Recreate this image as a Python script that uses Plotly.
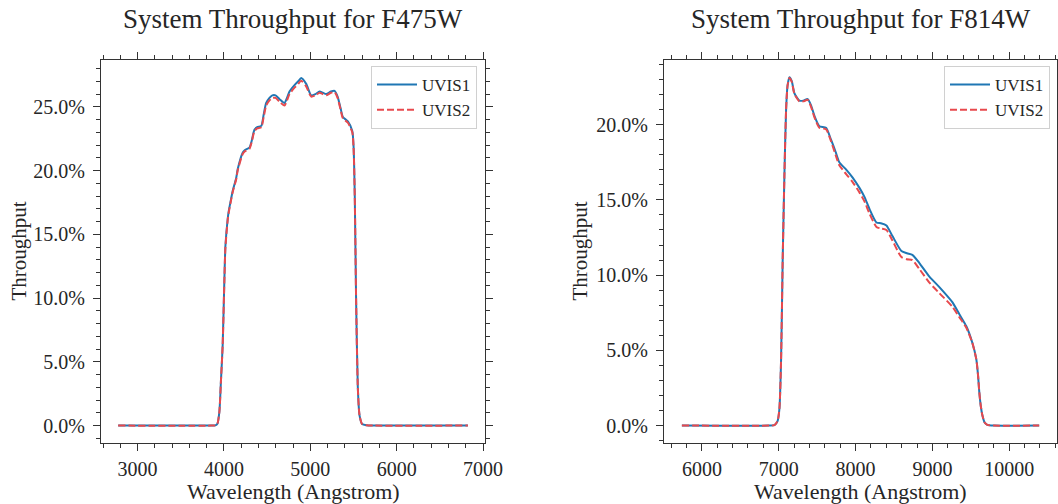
import plotly.graph_objects as go

# ---------------- data (percent throughput) ----------------
f475_wave = [2775, 3850, 3900, 3924, 3947, 3965, 3985, 4005, 4017, 4043, 4055, 4083, 4101,
             4141, 4159, 4217, 4240, 4295, 4320, 4353, 4385, 4432, 4460, 4489, 4527, 4560,
             4597, 4643, 4701, 4730, 4759, 4817, 4860, 4894, 4952, 5010, 5060, 5107, 5145,
             5184, 5240, 5281, 5316, 5350, 5377, 5435, 5486, 5501, 5515, 5530, 5550, 5570,
             5600, 5650, 5750, 6825]
f475_uvis1 = [0.0, 0.0, 0.02, 0.15, 1.1, 3.5, 6.3, 11.5, 14.1, 16.2, 16.8, 17.8, 18.4,
              19.4, 20.1, 21.4, 21.6, 21.8, 22.3, 23.2, 23.4, 23.5, 24.4, 25.3, 25.7, 25.9,
              25.9, 25.6, 25.3, 25.7, 26.2, 26.7, 27.0, 27.25, 26.8, 25.9, 26.0, 26.2, 26.1,
              26.0, 26.2, 26.25, 25.8, 24.9, 24.2, 23.85, 23.1, 21.9, 18.0, 10.0, 3.0, 0.8,
              0.12, 0.02, 0.0, 0.0]
f475_uvis2 = [0.0, 0.0, 0.02, 0.15, 1.1, 3.5, 6.3, 11.4, 14.0, 16.1, 16.7, 17.7, 18.3,
              19.3, 20.0, 21.3, 21.5, 21.7, 22.2, 23.1, 23.3, 23.4, 24.2, 25.1, 25.5, 25.7,
              25.7, 25.4, 25.1, 25.5, 26.0, 26.5, 26.8, 27.05, 26.6, 25.8, 25.9, 26.1, 26.0,
              25.9, 26.1, 26.15, 25.7, 24.8, 24.1, 23.75, 23.0, 21.8, 17.9, 10.0, 3.0, 0.8,
              0.12, 0.02, 0.0, 0.0]

f814_wave = [5740, 6880, 6944, 6985, 7009, 7031, 7052, 7074, 7096, 7115, 7139, 7170, 7204,
             7269, 7320, 7377, 7420, 7464, 7529, 7616, 7681, 7740, 7789, 7881, 7960, 8051,
             8116, 8181, 8272, 8330, 8402, 8480, 8597, 8670, 8740, 8831, 8961, 9091, 9260,
             9351, 9442, 9520, 9572, 9595, 9611, 9630, 9650, 9680, 9715, 9800, 10390]
f814_uvis1 = [0.0, 0.0, 0.03, 0.3, 1.1, 4.4, 11.1, 16.6, 21.0, 22.6, 23.15, 22.9, 22.1,
              21.6, 21.6, 21.7, 21.3, 20.6, 19.9, 19.8, 19.0, 18.2, 17.5, 17.0, 16.5, 15.8,
              15.2, 14.4, 13.5, 13.45, 13.3, 12.6, 11.6, 11.45, 11.35, 10.8, 9.9, 9.2, 8.2,
              7.4, 6.6, 5.5, 4.4, 3.3, 2.2, 1.3, 0.7, 0.2, 0.05, 0.0, 0.0]
f814_uvis2 = [0.0, 0.0, 0.03, 0.3, 1.1, 4.4, 11.1, 16.6, 21.0, 22.6, 23.1, 22.85, 22.05,
              21.55, 21.55, 21.65, 21.2, 20.5, 19.8, 19.7, 18.9, 18.0, 17.3, 16.7, 16.2, 15.5,
              14.9, 14.1, 13.2, 13.1, 13.0, 12.3, 11.2, 11.05, 11.0, 10.4, 9.5, 8.8, 7.9,
              7.2, 6.5, 5.5, 4.4, 3.3, 2.2, 1.3, 0.7, 0.2, 0.05, 0.0, 0.0]

titles = ["System Throughput for F475W", "System Throughput for F814W"]
series_names = ["UVIS1", "UVIS2"]
x_label = "Wavelength (Angstrom)"
y_label = "Throughput"

# ---------------- styling ----------------
FONT = "Liberation Serif"
TXT = "#262626"
BLUE = "#1f77b4"
RED = "#e8494d"

fig = go.Figure()

panels = [
    (f475_wave, f475_uvis1, f475_uvis2, "x", "y", "legend"),
    (f814_wave, f814_uvis1, f814_uvis2, "x2", "y2", "legend2"),
]
for wave, u1, u2, xa, ya, lg in panels:
    fig.add_trace(go.Scatter(x=wave, y=u1, mode="lines", name=series_names[0],
                             line=dict(color=BLUE, width=2, shape="spline", smoothing=0.6),
                             xaxis=xa, yaxis=ya, legend=lg))
    fig.add_trace(go.Scatter(x=wave, y=u2, mode="lines", name=series_names[1],
                             line=dict(color=RED, width=2, dash="7px,3px", shape="spline",
                                       smoothing=0.6),
                             xaxis=xa, yaxis=ya, legend=lg))

W, H = 1058, 504
top, bottom = 60, 443
left_dom = (101 / W, 485 / W)
right_dom = (664 / W, 1057 / W)
ydom = (1 - bottom / H, 1 - top / H)

axis_common = dict(
    showline=True, linecolor="#333", linewidth=1, mirror="allticks",
    ticks="outside", ticklen=7, tickwidth=1, tickcolor="#333",
    showgrid=False, zeroline=False, automargin=False,
    tickfont=dict(family=FONT, size=20, color=TXT),
    minor=dict(ticks="outside", ticklen=4, tickwidth=1, tickcolor="#333", showgrid=False),
)

fig.update_layout(
    width=W, height=H,
    margin=dict(l=0, r=0, t=0, b=0, autoexpand=False),
    paper_bgcolor="white", plot_bgcolor="white",
    font=dict(family=FONT, color=TXT),
    xaxis=dict(domain=left_dom, anchor="y", range=[2576, 7023], tickmode="linear",
               tick0=3000, dtick=1000, minor_dtick=200, minor_tick0=3000, tickformat="d",
               ticklabelstandoff=1, **axis_common),
    yaxis=dict(domain=ydom, anchor="x", range=[-1.365, 28.67], tickmode="linear",
               tick0=0, dtick=5, tickformat=".1f", ticksuffix="%", minor_dtick=1,
               minor_tick0=0, ticklabelstandoff=4, **axis_common),
    xaxis2=dict(domain=right_dom, anchor="y2", range=[5507, 10622], tickmode="linear",
                tick0=6000, dtick=1000, minor_dtick=200, minor_tick0=6000, tickformat="d",
                ticklabelstandoff=1, **axis_common),
    yaxis2=dict(domain=ydom, anchor="x2", range=[-1.16, 24.3], tickmode="linear",
                tick0=0, dtick=5, tickformat=".1f", ticksuffix="%", minor_dtick=1,
                minor_tick0=0, ticklabelstandoff=4, **axis_common),
    legend=dict(x=477 / W, y=1 - 66 / H, xanchor="right", yanchor="top",
                bgcolor="rgba(255,255,255,0.8)", bordercolor="#d0d0d0", borderwidth=1,
                font=dict(family=FONT, size=17, color=TXT), itemwidth=40,
                tracegroupgap=0),
    legend2=dict(x=1050 / W, y=1 - 66 / H, xanchor="right", yanchor="top",
                 bgcolor="rgba(255,255,255,0.8)", bordercolor="#d0d0d0", borderwidth=1,
                 font=dict(family=FONT, size=17, color=TXT), itemwidth=40,
                 tracegroupgap=0),
)

annotations = []
for i, (x0, x1) in enumerate([left_dom, right_dom]):
    cx = (x0 + x1) / 2
    annotations.append(dict(text=titles[i], x=cx, y=1 - 19 / H, xref="paper", yref="paper",
                            xanchor="center", yanchor="middle", showarrow=False,
                            font=dict(family=FONT, size=27, color=TXT)))
    annotations.append(dict(text=x_label, x=cx, y=1 - 491 / H, xref="paper", yref="paper",
                            xanchor="center", yanchor="middle", showarrow=False,
                            font=dict(family=FONT, size=22, color=TXT)))
for xc in [18 / W, 579 / W]:
    annotations.append(dict(text=y_label, x=xc, y=(ydom[0] + ydom[1]) / 2, xref="paper",
                            yref="paper", xanchor="center", yanchor="middle",
                            showarrow=False, textangle=-90,
                            font=dict(family=FONT, size=21, color=TXT)))
fig.update_layout(annotations=annotations)

fig.write_html("out.html")
